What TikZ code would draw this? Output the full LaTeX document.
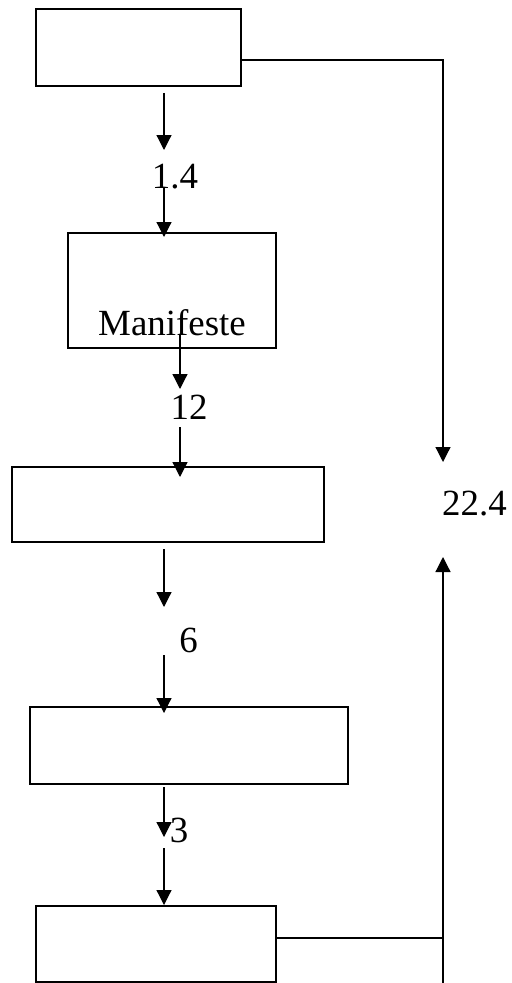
\documentclass[tikz,border=0pt]{standalone}
\usepackage{fontspec}
\setmainfont{Liberation Serif}
\usetikzlibrary{arrows.meta}
\tikzstyle{process} = [rectangle, inner sep=0pt, draw=black, line width=0.7pt]
\tikzstyle{num} = [inner sep=0pt, anchor=base, font=\fontsize{21}{25}\selectfont]
\tikzstyle{arrow} = [line width=0.7pt, -{Triangle[length=0.3cm, width=0.3cm]}]
\tikzstyle{line} = [line width=0.7pt]

\begin{document}
\begin{tikzpicture}[x=0.02cm, y=-0.02cm]
			\useasboundingbox (0,0) rectangle (511,983);
			%方框
			\node (pro1) [process, minimum width=4.1cm, minimum height=1.54cm] at (138.5,47.5) {};
			\node (pro2) [process, minimum width=4.16cm, minimum height=2.3cm,
				label={[num, yshift=0.26cm]south:Manifeste}] at (172,290.5) {};
			\node (pro3) [process, minimum width=6.24cm, minimum height=1.5cm] at (168,504.5) {};
			\node (pro4) [process, minimum width=6.36cm, minimum height=1.54cm] at (189,745.5) {};
			\node (pro5) [process, minimum width=4.8cm, minimum height=1.52cm] at (156,944) {};
			
			%数值
			\node (n1) [num] at (175,189) {1.4};
			\node (n2) [num] at (189,419) {12};
			\node (n3) [num] at (188.5,652) {6};
			\node (n4) [num] at (179,842) {3};
			\node (n5) [num] at (474.5,515) {22.4};
			
			%箭头端点
			\coordinate (a1) at (164,93);   \coordinate (b1) at (164,150);
			\coordinate (a2) at (164,187);  \coordinate (b2) at (164,237);
			\coordinate (a3) at (180,335);  \coordinate (b3) at (180,389);
			\coordinate (a4) at (180,427);  \coordinate (b4) at (180,477);
			\coordinate (a5) at (164,549);  \coordinate (b5) at (164,607);
			\coordinate (a6) at (164,655);  \coordinate (b6) at (164,713);
			\coordinate (a7) at (164,787);  \coordinate (b7) at (164,837);
			\coordinate (a8) at (164,848);  \coordinate (b8) at (164,905);
			\coordinate (r1) at (443,60);   \coordinate (r2) at (443,462);
			\coordinate (r3) at (443,938);  \coordinate (r4) at (443,983);
			\coordinate (r5) at (443,557);
			
			%连接
			\draw [arrow](a1) -- (b1);
			\draw [arrow](a2) -- (b2);
			\draw [arrow](a3) -- (b3);
			\draw [arrow](a4) -- (b4);
			\draw [arrow](a5) -- (b5);
			\draw [arrow](a6) -- (b6);
			\draw [arrow](a7) -- (b7);
			\draw [arrow](a8) -- (b8);
			\draw [arrow](pro1.east |- r1) -- (r1) -- (r2);
			\draw [line](pro5.east |- r3) -- (r3);
			\draw [arrow](r4) -- (r5);
		\end{tikzpicture}
\end{document}
